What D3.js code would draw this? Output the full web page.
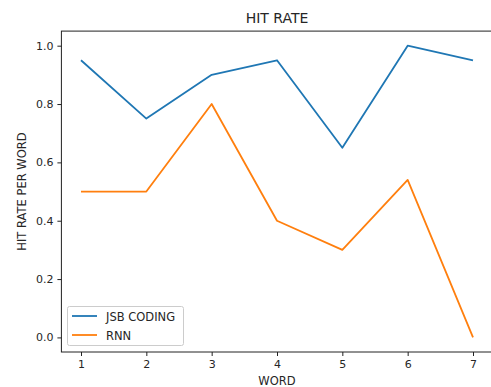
<!DOCTYPE html>
<meta charset="utf-8">
<style>
    body { margin: 0; background: #fff; }
    text { font-family: "DejaVu Sans", sans-serif; fill: #262626; }
    .tick text { font-size: 11px; }
</style>
<svg width="491" height="387"></svg>
<script src="https://d3js.org/d3.v7.min.js"></script>
<script>

    var words = [1, 2, 3, 4, 5, 6, 7];
    var jsbCoding = [0.95, 0.75, 0.9, 0.95, 0.65, 1.0, 0.95];
    var rnn = [0.5, 0.5, 0.8, 0.4, 0.3, 0.54, 0.0];
    var yTicks = [0.0, 0.2, 0.4, 0.6, 0.8, 1.0];

    var series = [
        {name: "JSB CODING", values: jsbCoding, color: "#1f77b4"},
        {name: "RNN", values: rnn, color: "#ff7f0e"}
    ];

    var svg = d3.select("svg");
    var plotLeft = 61.4, plotRight = 492.6, plotTop = 31.1, plotBottom = 352;

    var x = d3.scaleLinear().domain([0.7, 7.3]).range([plotLeft, plotRight]);
    var y = d3.scaleLinear().domain([-0.05, 1.05]).range([plotBottom, plotTop]);

    var line = d3.line()
        .x(function (d, i) { return x(words[i]); })
        .y(function (d) { return y(d); });

    svg.append("g")
        .selectAll("path")
        .data(series)
        .enter().append("path")
        .attr("fill", "none")
        .attr("stroke", function (d) { return d.color; })
        .attr("stroke-width", 1.8)
        .attr("stroke-linejoin", "round")
        .attr("d", function (d) { return line(d.values); });

    // frame
    svg.append("rect")
        .attr("x", plotLeft).attr("y", plotTop)
        .attr("width", plotRight - plotLeft).attr("height", plotBottom - plotTop)
        .attr("fill", "none")
        .attr("stroke", "#222")
        .attr("stroke-width", 1);

    var xAxis = svg.append("g")
        .attr("transform", "translate(0," + plotBottom + ")")
        .call(d3.axisBottom(x).tickValues(words).tickFormat(d3.format("d")).tickSize(4).tickPadding(4));
    xAxis.select(".domain").remove();

    var yAxis = svg.append("g")
        .attr("transform", "translate(" + plotLeft + ",0)")
        .call(d3.axisLeft(y).tickValues(yTicks).tickFormat(d3.format(".1f")).tickSize(4).tickPadding(4));
    yAxis.select(".domain").remove();

    svg.selectAll(".tick line").attr("stroke", "#222");
    svg.selectAll(".tick text").attr("fill", "#262626");

    svg.append("text")
        .attr("x", (plotLeft + plotRight) / 2).attr("y", 23)
        .attr("text-anchor", "middle")
        .attr("font-size", "14px")
        .text("HIT RATE");

    svg.append("text")
        .attr("x", (plotLeft + plotRight) / 2).attr("y", 385)
        .attr("text-anchor", "middle")
        .attr("font-size", "11.5px")
        .text("WORD");

    svg.append("text")
        .attr("transform", "translate(26," + (plotTop + plotBottom) / 2 + ") rotate(-90)")
        .attr("text-anchor", "middle")
        .attr("font-size", "11.5px")
        .text("HIT RATE PER WORD");

    // legend
    var legend = svg.append("g");
    legend.append("rect")
        .attr("x", 67.5).attr("y", 306.5)
        .attr("width", 116).attr("height", 39)
        .attr("rx", 2)
        .attr("fill", "#fff")
        .attr("fill-opacity", 0.8)
        .attr("stroke", "#ccc");

    var item = legend.selectAll("g.item")
        .data(series)
        .enter().append("g")
        .attr("class", "item")
        .attr("transform", function (d, i) { return "translate(0," + (316 + i * 19) + ")"; });

    item.append("line")
        .attr("x1", 72).attr("x2", 97)
        .attr("stroke", function (d) { return d.color; })
        .attr("stroke-width", 1.8);

    item.append("text")
        .attr("x", 106).attr("y", 4.5)
        .attr("font-size", "11.5px")
        .text(function (d) { return d.name; });

</script>
